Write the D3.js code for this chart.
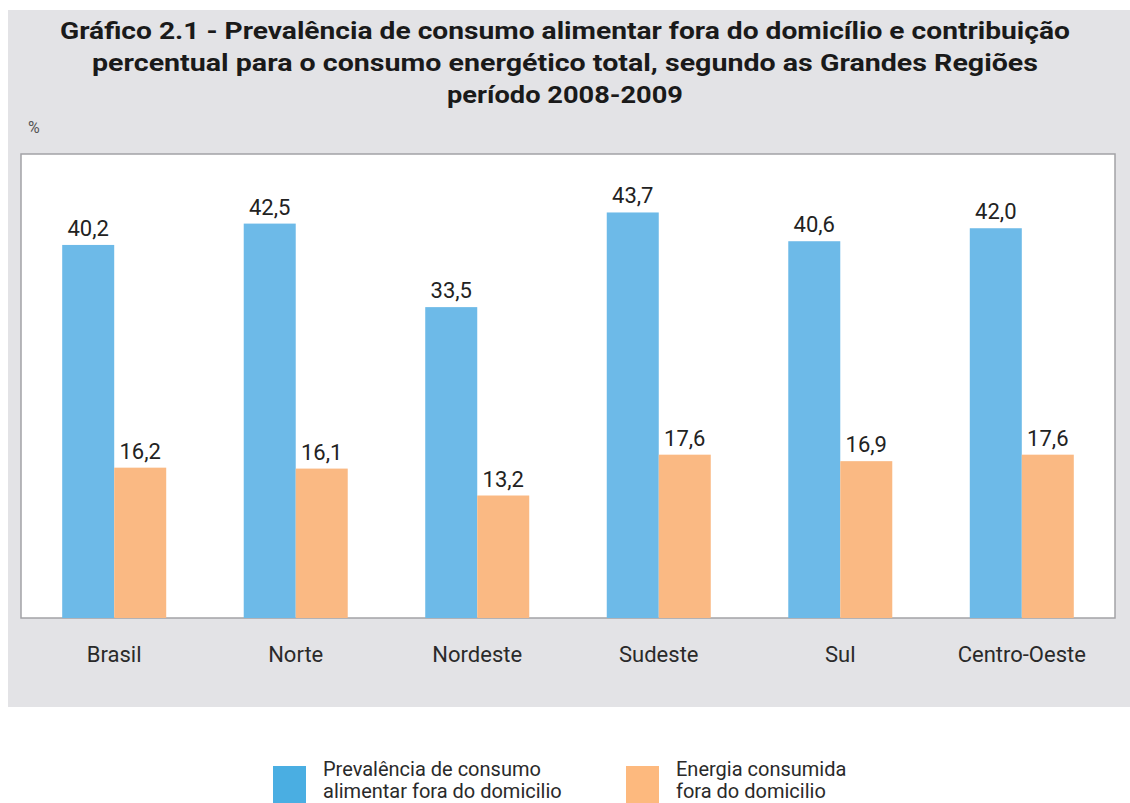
<!DOCTYPE html>
<html>
<head>
<meta charset="utf-8">
<script src="https://cdn.jsdelivr.net/npm/d3@7"></script>
<style>
  body { margin: 0; background: #fff; }
  svg { display: block; }
  .title { font-family: "Roboto", "Liberation Sans", sans-serif; font-weight: bold; font-size: 23px; fill: #1a1a1a; }
  .valor { font-family: "Roboto", "Liberation Sans", sans-serif; font-size: 22px; fill: #222; }
  .cat { font-family: "Roboto", "Liberation Sans", sans-serif; font-size: 22px; fill: #2a2a2a; }
  .leg { font-family: "Roboto", "Liberation Sans", sans-serif; font-size: 20px; fill: #2a2a2a; }
</style>
</head>
<body>
<script>
const regioes = ["Brasil", "Norte", "Nordeste", "Sudeste", "Sul", "Centro-Oeste"];
const prevalencia = [40.2, 42.5, 33.5, 43.7, 40.6, 42.0];
const energia = [16.2, 16.1, 13.2, 17.6, 16.9, 17.6];
const seriesNomes = [
  ["Prevalência de consumo", "alimentar fora do domicilio"],
  ["Energia consumida", "fora do domicilio"]
];
const cores = ["#6dbae8", "#fab983"];
const coresLegenda = ["#4aaee2", "#fdb97e"];
const tituloLinhas = [
  "Gráfico 2.1 - Prevalência de consumo alimentar fora do domicílio e contribuição",
  "percentual para o consumo energético total, segundo as Grandes Regiões",
  "período 2008-2009"
];
const tituloLarguras = [1010, 946, 236];

const W = 1130, H = 803;
const frame = { x0: 21, x1: 1115, y0: 154, y1: 618 };

const svg = d3.select("body").append("svg")
  .attr("width", W).attr("height", H);

// gray panel
svg.append("rect")
  .attr("x", 8).attr("y", 10)
  .attr("width", W - 8).attr("height", 697)
  .attr("fill", "#e3e3e6");

// title
svg.append("g").selectAll("text")
  .data(tituloLinhas)
  .join("text")
  .attr("class", "title")
  .attr("x", 565)
  .attr("y", (d, i) => 39 + i * 32)
  .attr("text-anchor", "middle")
  .attr("textLength", (d, i) => tituloLarguras[i])
  .attr("lengthAdjust", "spacingAndGlyphs")
  .text(d => d);

svg.append("text")
  .attr("x", 28).attr("y", 133)
  .style("font-family", "Roboto, sans-serif")
  .style("font-size", "16px")
  .attr("fill", "#555")
  .text("%");

// plot frame
svg.append("rect")
  .attr("x", frame.x0).attr("y", frame.y0)
  .attr("width", frame.x1 - frame.x0).attr("height", frame.y1 - frame.y0)
  .attr("fill", "#fff")
  .attr("stroke", "#a3a3a6")
  .attr("stroke-width", 1.5);

const x0 = d3.scaleBand()
  .domain(regioes)
  .range([frame.x0, frame.x1])
  .paddingInner(0.427)
  .paddingOuter(0.227);

const x1 = d3.scaleBand()
  .domain([0, 1])
  .range([0, x0.bandwidth()]);

const y = d3.scaleLinear()
  .domain([0, 50])
  .range([frame.y1, frame.y0]);

const fmt = d3.formatLocale({ decimal: ",", thousands: ".", grouping: [3], currency: ["R$", ""] }).format(".1f");

const dados = regioes.map((r, i) => ({ regiao: r, valores: [prevalencia[i], energia[i]] }));

const grupos = svg.append("g").selectAll("g")
  .data(dados)
  .join("g")
  .attr("transform", d => `translate(${x0(d.regiao)},0)`);

grupos.selectAll("rect")
  .data(d => d.valores.map((v, k) => ({ k, v })))
  .join("rect")
  .attr("x", d => x1(d.k))
  .attr("y", d => y(d.v))
  .attr("width", x1.bandwidth())
  .attr("height", d => y(0) - y(d.v))
  .attr("fill", d => cores[d.k]);

grupos.selectAll("text.valor")
  .data(d => d.valores.map((v, k) => ({ k, v })))
  .join("text")
  .attr("class", "valor")
  .attr("x", d => x1(d.k) + x1.bandwidth() / 2)
  .attr("y", d => y(d.v) - 9)
  .attr("text-anchor", "middle")
  .text(d => fmt(d.v));

// category labels
svg.append("g").selectAll("text")
  .data(regioes)
  .join("text")
  .attr("class", "cat")
  .attr("x", d => x0(d) + x0.bandwidth() / 2)
  .attr("y", 662)
  .attr("text-anchor", "middle")
  .text(d => d);

// legend
const leg = svg.append("g").selectAll("g")
  .data(seriesNomes)
  .join("g")
  .attr("transform", (d, i) => `translate(${273 + i * 353},766)`);

leg.append("rect")
  .attr("width", 33).attr("height", 37)
  .attr("fill", (d, i) => coresLegenda[i]);

leg.selectAll("text")
  .data(d => d)
  .join("text")
  .attr("class", "leg")
  .attr("x", 50)
  .attr("y", (d, i) => 10 + i * 22)
  .text(d => d);
</script>
</body>
</html>
